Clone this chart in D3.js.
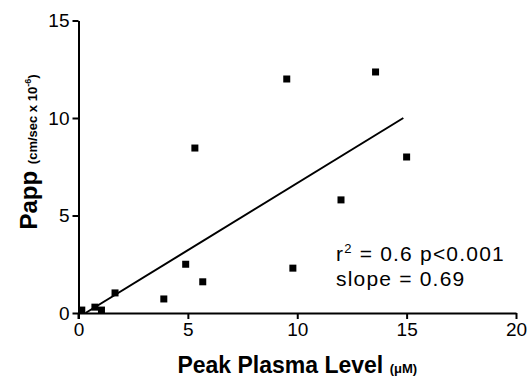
<!DOCTYPE html>
<html><head><meta charset="utf-8">
<script src="https://cdn.jsdelivr.net/npm/d3@7"></script>
<style>body{margin:0;background:#fff}svg{display:block;font-family:"Liberation Sans",Arial,Helvetica,sans-serif}</style>
</head><body>
<script>
const peakPlasma = [0.15, 0.75, 1.05, 1.67, 3.9, 4.9, 5.68, 5.32, 9.52, 9.8, 12.0, 13.58, 15.0];
const papp = [0.15, 0.3, 0.15, 1.03, 0.72, 2.5, 1.6, 8.46, 12.0, 2.3, 5.8, 12.36, 8.0];
const fitX = [0.32, 14.85];
const fitY = [0.0, 10.0];
const xTicks = [0, 5, 10, 15, 20];
const yTicks = [0, 5, 10, 15];

const W = 530, H = 378;
const svg = d3.select("body").append("svg").attr("width", W).attr("height", H);
const x = d3.scaleLinear().domain([0, 20]).range([78.5, 516]);
const y = d3.scaleLinear().domain([0, 15]).range([313, 20.5]);

const xAxis = svg.append("g").attr("transform", `translate(0,${y(0)})`)
  .call(d3.axisBottom(x).tickValues(xTicks).tickSize(6).tickPadding(4).tickSizeOuter(0));
const yAxis = svg.append("g").attr("transform", `translate(${x(0)},0)`)
  .call(d3.axisLeft(y).tickValues(yTicks).tickSize(6).tickPadding(3).tickSizeOuter(0));
[xAxis, yAxis].forEach(g => {
  g.select(".domain").attr("stroke", "#000").attr("stroke-width", 2);
  g.selectAll(".tick line").attr("stroke", "#000").attr("stroke-width", 2);
  g.selectAll(".tick text").attr("fill", "#000").attr("font-size", 19)
    .attr("font-family", '"Liberation Sans",Arial,sans-serif');
});
svg.append("line").attr("x1", x(0)).attr("x2", x(0)).attr("y1", y(0)).attr("y2", y(0) + 6)
  .attr("stroke", "#000").attr("stroke-width", 2);

// regression line
svg.append("line").attr("x1", x(fitX[0])).attr("y1", y(fitY[0]))
  .attr("x2", x(fitX[1])).attr("y2", y(fitY[1]))
  .attr("stroke", "#000").attr("stroke-width", 2);

// points
const s = 7;
svg.selectAll("rect.pt").data(peakPlasma.map((v, i) => [v, papp[i]])).enter()
  .append("rect").attr("class", "pt")
  .attr("x", d => x(d[0]) - s / 2).attr("y", d => y(d[1]) - s / 2)
  .attr("width", s).attr("height", s).attr("fill", "#000");

// annotation
const ann = svg.append("text").attr("x", 336).attr("y", 261).attr("font-size", 21)
  .attr("letter-spacing", 1.2).attr("fill", "#000");
ann.append("tspan").text("r");
ann.append("tspan").attr("font-size", 13).attr("dy", -8).text("2");
ann.append("tspan").attr("dy", 8).text(" = 0.6 p<0.001");
svg.append("text").attr("x", 336).attr("y", 286).attr("font-size", 21)
  .attr("letter-spacing", 1.2).attr("fill", "#000").text("slope = 0.69");

// x title
const xt = svg.append("text").attr("x", x(10)).attr("y", 373).attr("text-anchor", "middle")
  .attr("font-weight", "bold").attr("fill", "#000");
xt.append("tspan").attr("font-size", 23).text("Peak Plasma Level ");
xt.append("tspan").attr("font-size", 13).text("(μM)");

// y title
const yt = svg.append("text").attr("transform", "translate(37,152) rotate(-90)").attr("text-anchor", "middle")
  .attr("font-weight", "bold").attr("fill", "#000");
yt.append("tspan").attr("font-size", 24).text("Papp ");
yt.append("tspan").attr("font-size", 13).text("(cm/sec x 10");
yt.append("tspan").attr("font-size", 9).attr("dy", -6).text("-6");
yt.append("tspan").attr("font-size", 13).attr("dy", 6).text(")");
</script>
</body></html>
